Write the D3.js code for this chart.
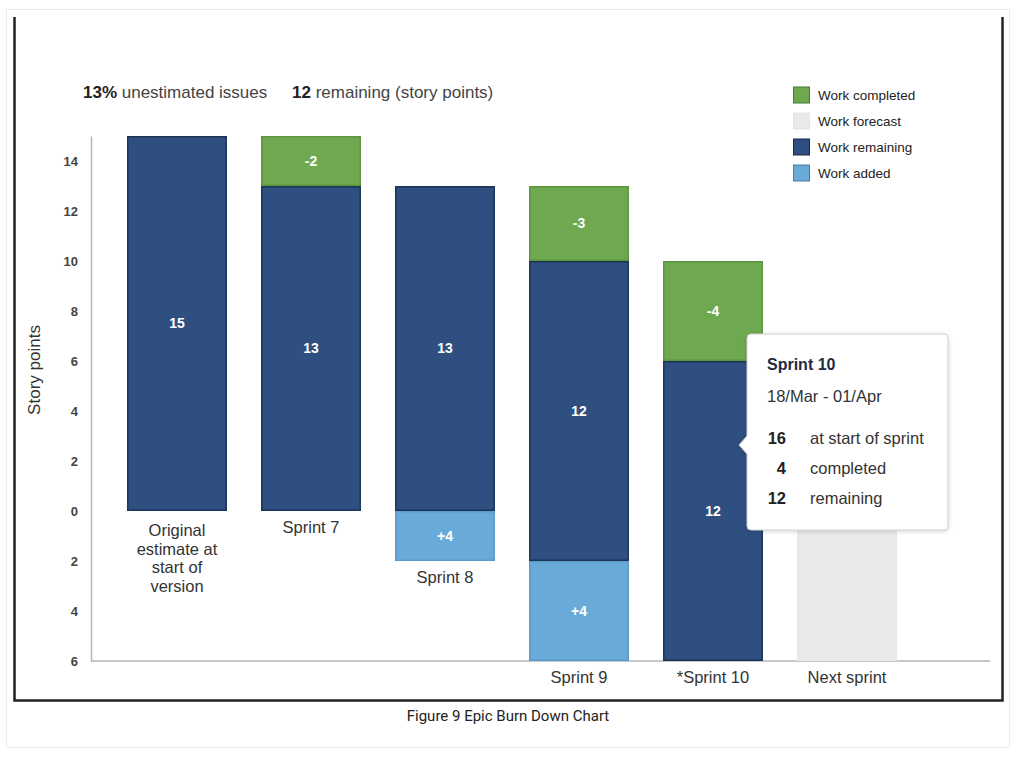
<!DOCTYPE html>
<html>
<head>
<meta charset="utf-8">
<script src="https://cdn.jsdelivr.net/npm/d3@7"></script>
<style>
  html, body { margin: 0; padding: 0; background: #fff; }
  svg { display: block; }
</style>
</head>
<body>
<svg id="chart" width="1024" height="765"></svg>
<script>
// ---------- data ----------
const categories = ["Original", "Sprint 7", "Sprint 8", "Sprint 9", "*Sprint 10", "Next sprint"];
const categoryLines = [["Original", "estimate at", "start of", "version"], ["Sprint 7"], ["Sprint 8"], ["Sprint 9"], ["*Sprint 10"], ["Next sprint"]];

const completedTop    = [null, 15, null, 13, 10, null];
const completedBottom = [null, 13, null, 10, 6, null];
const completedLabels = ["", "-2", "", "-3", "-4", ""];

const remainingTop    = [15, 13, 13, 10, 6, null];
const remainingBottom = [0, 0, 0, -2, -6, null];
const remainingLabels = ["15", "13", "13", "12", "12", ""];

const addedTop    = [null, null, 0, -2, null, null];
const addedBottom = [null, null, -2, -6, null, null];
const addedLabels = ["", "", "+4", "+4", "", ""];

const forecastTop    = [null, null, null, null, null, 0];
const forecastBottom = [null, null, null, null, null, -6];
const forecastLabels = ["", "", "", "", "", ""];

const yTicks = [-6, -4, -2, 0, 2, 4, 6, 8, 10, 12, 14];
const legendItems = ["Work completed", "Work forecast", "Work remaining", "Work added"];

const tooltipTitle = "Sprint 10";
const tooltipDates = "18/Mar - 01/Apr";
const tooltipValues = ["16", "4", "12"];
const tooltipTexts = ["at start of sprint", "completed", "remaining"];

// ---------- styles ----------
const colors = {
  completed: { fill: "#6fa94f", stroke: "#5d9640" },
  forecast:  { fill: "#e9e9e9", stroke: "#e9e9e9" },
  remaining: { fill: "#2e4f7f", stroke: "#1c3557" },
  added:     { fill: "#6aaad9", stroke: "#5b9acb" }
};
const legendColors = [colors.completed, colors.forecast, colors.remaining, colors.added];

const series = [
  { key: "completed", tops: completedTop, bottoms: completedBottom, labels: completedLabels },
  { key: "forecast",  tops: forecastTop,  bottoms: forecastBottom,  labels: forecastLabels },
  { key: "remaining", tops: remainingTop, bottoms: remainingBottom, labels: remainingLabels },
  { key: "added",     tops: addedTop,     bottoms: addedBottom,     labels: addedLabels }
];

const svg = d3.select("#chart");
const FONT = "'Liberation Sans', Arial, Helvetica, sans-serif";

// outer light frame
svg.append("rect").attr("x", 6.5).attr("y", 9.5).attr("width", 1003).attr("height", 738)
  .attr("fill", "#fff").attr("stroke", "#ececec").attr("stroke-width", 1);

// dark frame (left, bottom, right)
svg.append("path")
  .attr("d", "M14.5,17 L14.5,700.5 L1002.5,700.5 L1002.5,17")
  .attr("fill", "none").attr("stroke", "#222").attr("stroke-width", 2.5);

// caption
svg.append("text").attr("x", 508).attr("y", 721).attr("text-anchor", "middle")
  .attr("font-family", "Roboto, 'Noto Sans', sans-serif").attr("font-size", 15).attr("fill", "#222")
  .text("Figure 9 Epic Burn Down Chart");

// ---------- scales ----------
const x = d3.scaleBand().domain(categories).range([110, 914]).paddingInner(0.254).paddingOuter(0.127);
const y = d3.scaleLinear().domain([-6, 15]).range([661, 136]);

// axes
const yAxis = d3.axisLeft(y).tickValues(yTicks).tickSize(0).tickPadding(13).tickFormat(d => Math.abs(d));
const gy = svg.append("g").attr("transform", "translate(91,0)").call(yAxis);
gy.select(".domain").attr("stroke", "#b5b5b5").attr("stroke-width", 1.5);
gy.selectAll("text").attr("font-family", FONT).attr("font-size", 13).attr("font-weight", "bold").attr("fill", "#444");

svg.append("line").attr("x1", 91).attr("x2", 990).attr("y1", y(-6)).attr("y2", y(-6))
  .attr("stroke", "#b5b5b5").attr("stroke-width", 1.5);

svg.append("text").attr("transform", `translate(40,${370}) rotate(-90)`).attr("text-anchor", "middle")
  .attr("font-family", FONT).attr("font-size", 17).attr("fill", "#333").text("Story points");

// ---------- bars ----------
series.forEach(s => {
  const data = categories.map((c, i) => ({ c, top: s.tops[i], bottom: s.bottoms[i], label: s.labels[i] }))
    .filter(d => d.top !== null);
  const g = svg.append("g");
  g.selectAll("rect").data(data).enter().append("rect")
    .attr("x", d => x(d.c) + 0.75)
    .attr("y", d => y(d.top) + 0.75)
    .attr("width", x.bandwidth() - 1.5)
    .attr("height", d => y(d.bottom) - y(d.top) - 1.5)
    .attr("fill", colors[s.key].fill)
    .attr("stroke", colors[s.key].stroke)
    .attr("stroke-width", 1.5);
  g.selectAll("text").data(data.filter(d => d.label)).enter().append("text")
    .attr("x", d => x(d.c) + x.bandwidth() / 2)
    .attr("y", d => (y(d.top) + y(d.bottom)) / 2)
    .attr("dy", "0.35em").attr("text-anchor", "middle")
    .attr("font-family", FONT).attr("font-size", 14).attr("font-weight", "bold").attr("fill", "#fff")
    .text(d => d.label);
});

// category labels below each bar's lowest extent
categories.forEach((c, i) => {
  const lows = series.map(s => s.bottoms[i]).filter(v => v !== null);
  const low = d3.min(lows);
  const t = svg.append("text").attr("text-anchor", "middle")
    .attr("font-family", FONT).attr("font-size", 16.5).attr("fill", "#333");
  categoryLines[i].forEach((line, j) => {
    t.append("tspan").attr("x", x(c) + x.bandwidth() / 2)
      .attr("y", y(low) + 22 + (i === 0 ? 3 : 0) + j * 18.7).text(line);
  });
});

// ---------- header ----------
const header = svg.append("text").attr("x", 83).attr("y", 98)
  .attr("font-family", FONT).attr("font-size", 17).attr("fill", "#444");
header.append("tspan").attr("font-weight", "bold").attr("fill", "#222").text("13%");
header.append("tspan").text(" unestimated issues");
const header2 = svg.append("text").attr("x", 292).attr("y", 98)
  .attr("font-family", FONT).attr("font-size", 17).attr("fill", "#444");
header2.append("tspan").attr("font-weight", "bold").attr("fill", "#222").text("12");
header2.append("tspan").text(" remaining (story points)");

// ---------- legend ----------
const lg = svg.append("g");
legendItems.forEach((name, i) => {
  const cy = 95 + i * 26;
  lg.append("rect").attr("x", 793.5).attr("y", cy - 8).attr("width", 16).attr("height", 16)
    .attr("fill", legendColors[i].fill).attr("stroke", i === 1 ? "#e4e4e4" : d3.color(legendColors[i].stroke).darker(0.6)).attr("stroke-width", 1);
  lg.append("text").attr("x", 818).attr("y", cy).attr("dy", "0.35em")
    .attr("font-family", FONT).attr("font-size", 13.5).attr("fill", "#222").text(name);
});

// ---------- tooltip ----------
const tip = svg.append("g");
const defs = svg.append("defs");
const f = defs.append("filter").attr("id", "shadow").attr("x", "-10%").attr("y", "-10%").attr("width", "130%").attr("height", "130%");
f.append("feDropShadow").attr("dx", 0).attr("dy", 1).attr("stdDeviation", 2).attr("flood-color", "#000").attr("flood-opacity", 0.18);
const bx = 747, by = 334, bw = 201, bh = 196, r = 4, ay = 445;
tip.append("path")
  .attr("d", `M${bx + r},${by} H${bx + bw - r} Q${bx + bw},${by} ${bx + bw},${by + r} V${by + bh - r} Q${bx + bw},${by + bh} ${bx + bw - r},${by + bh} H${bx + r} Q${bx},${by + bh} ${bx},${by + bh - r} V${ay + 9} L${bx - 8},${ay} L${bx},${ay - 9} V${by + r} Q${bx},${by} ${bx + r},${by} Z`)
  .attr("fill", "#fff").attr("stroke", "#cfcfcf").attr("stroke-width", 1).attr("filter", "url(#shadow)");
tip.append("text").attr("x", 767).attr("y", 370).attr("font-family", FONT).attr("font-size", 16)
  .attr("font-weight", "bold").attr("fill", "#1d2b45").text(tooltipTitle);
tip.append("text").attr("x", 767).attr("y", 402).attr("font-family", FONT).attr("font-size", 16.5)
  .attr("fill", "#333").text(tooltipDates);
tooltipValues.forEach((v, i) => {
  const yy = 444 + i * 30;
  tip.append("text").attr("x", 786).attr("y", yy).attr("text-anchor", "end").attr("font-family", FONT)
    .attr("font-size", 16.5).attr("font-weight", "bold").attr("fill", "#222").text(v);
  tip.append("text").attr("x", 810).attr("y", yy).attr("font-family", FONT)
    .attr("font-size", 16.5).attr("fill", "#333").text(tooltipTexts[i]);
});
</script>
</body>
</html>
